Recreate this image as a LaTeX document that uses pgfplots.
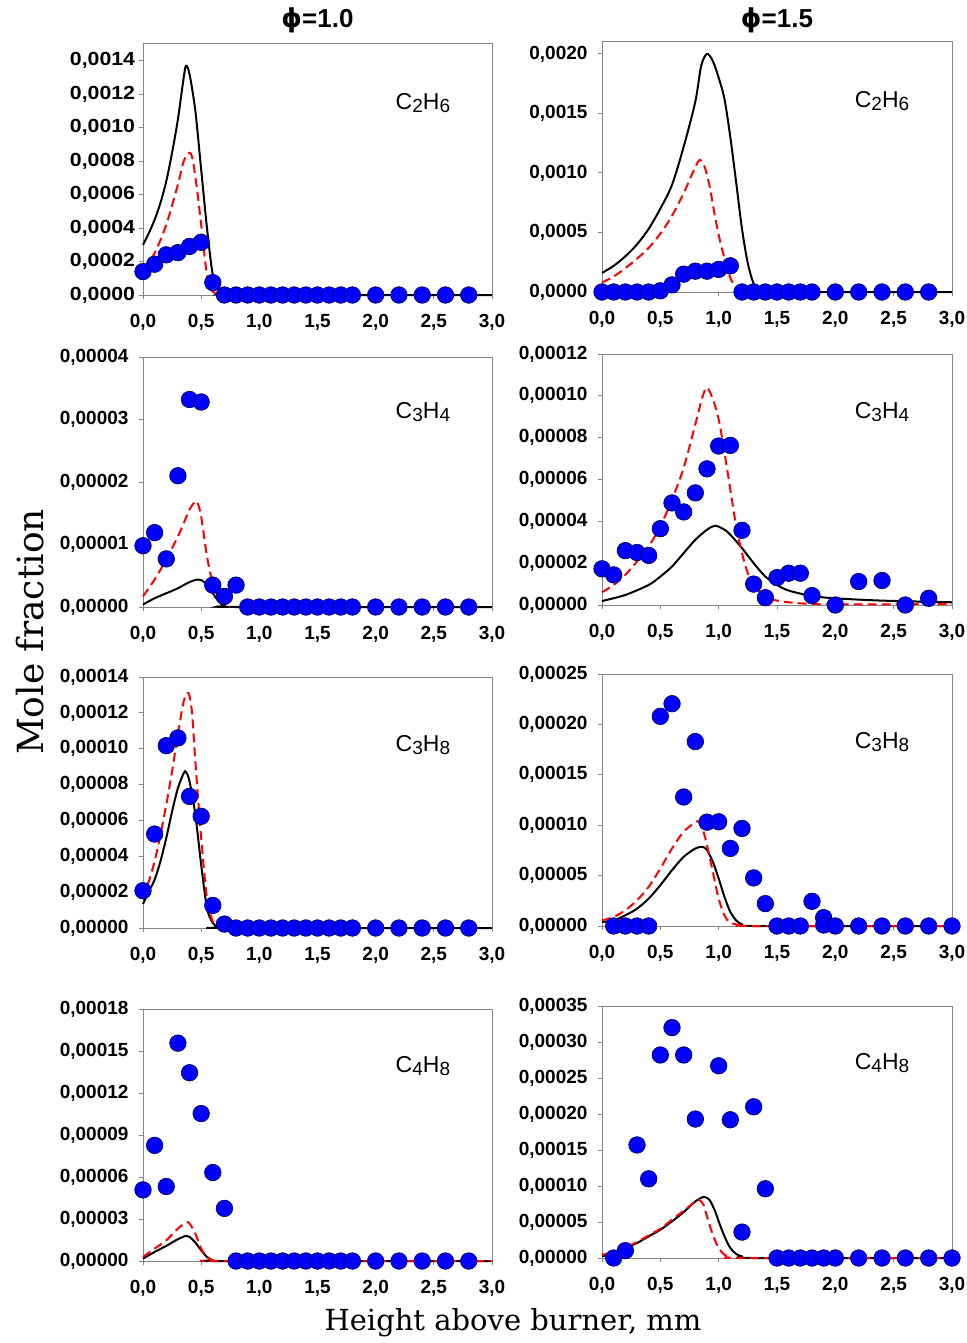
\documentclass[border=0pt]{standalone}
\usepackage{fontspec}
\setmainfont{Liberation Sans}
\newfontfamily\serifl{DejaVu Serif}
\newfontfamily\dvs{DejaVu Sans}
\usepackage{pgfplots}
\pgfplotsset{compat=1.18}
\definecolor{frame}{RGB}{134,134,134}
\definecolor{mk}{RGB}{0,0,255}
\pgfplotsset{
  panel/.style={width=349pt,height=251pt,scale only axis,anchor=south west,
    xmin=0,xmax=3,ymin=0,clip=false,
    xtick={0,0.5,1,1.5,2,2.5,3},
    axis line style={frame,line width=1pt},
    tick style={frame,line width=1pt},
    major tick length=4pt,
    tick align=outside, xtick pos=bottom, ytick pos=left,
    scaled y ticks=false,
    tick label style={font=\fontsize{19}{19}\selectfont\bfseries},
    xticklabel={\pgfmathprintnumber[fixed,fixed zerofill,precision=1,use comma,assume math mode=true]{\tick}},
    xticklabel style={yshift=-12pt},
  },
  p4/.style={yticklabel={\pgfmathprintnumber[fixed,fixed zerofill,precision=4,use comma,assume math mode=true]{\tick}}},
  p5/.style={yticklabel={\pgfmathprintnumber[fixed,fixed zerofill,precision=5,use comma,assume math mode=true]{\tick}},
    yticklabel style={xshift=-7pt}},
  blk/.style={black,line width=2pt,no marks,smooth},
  rdd/.style={red,line width=2pt,no marks,smooth,dash pattern=on 9pt off 5pt},
  mrk/.style={only marks,mark=*,mark size=8.3pt,mark options={fill=mk,draw=black!70!blue,line width=0.6pt}},
}
\newcommand{\spc}[4]{\fontsize{23}{23}\selectfont #1\raisebox{-3pt}{\fontsize{19}{19}\selectfont #2}#3\raisebox{-3pt}{\fontsize{19}{19}\selectfont #4}}
\begin{document}
\begin{tikzpicture}
\path[use as bounding box] (0pt,0pt) rectangle (966pt,-1343pt);
\node[font=\fontsize{26}{26}\selectfont\bfseries] at (317.5pt,-20pt) {{\dvs\bfseries ϕ}=1.0};
\node[font=\fontsize{26}{26}\selectfont\bfseries] at (777pt,-20pt) {{\dvs\bfseries ϕ}=1.5};
\node[font=\serifl\fontsize{36}{36}\selectfont,rotate=90] at (30pt,-632pt) {Mole fraction};
\node[font=\serifl\fontsize{29}{29}\selectfont] at (513pt,-1323pt) {Height above burner, mm};

% Row 1 left: C2H6 phi=1.0
\begin{axis}[panel,p4,at={(143pt,-295pt)},ymax=0.0015,
  ytick={0,0.0002,0.0004,0.0006,0.0008,0.0010,0.0012,0.0014},
  yticklabel style={xscale=1.12}]
\addplot[blk] coordinates {(0,0.0003)(0.05,0.00037)(0.1,0.00045)(0.15,0.00055)(0.2,0.00068)(0.25,0.00085)(0.3,0.00105)(0.35,0.0013)(0.37,0.00137)(0.4,0.00132)(0.45,0.0011)(0.5,0.00075)(0.55,0.0004)(0.6,0.00012)(0.65,0.00003)(0.7,0.00001)(0.8,0)(3.0,0)};
\addplot[rdd] coordinates {(0,0.00015)(0.1,0.00025)(0.2,0.00042)(0.3,0.00066)(0.35,0.0008)(0.4,0.00085)(0.43,0.0008)(0.47,0.0006)(0.5,0.00042)(0.55,0.00012)(0.6,0.00002)(0.7,0)};
\addplot[mrk] coordinates {(0,0.00014)(0.1,0.000184)(0.2,0.00024)(0.3,0.000253)(0.4,0.00029)(0.5,0.000315)(0.6,0.000074)(0.7,0)(0.8,0)(0.9,0)(1.0,0)(1.1,0)(1.2,0)(1.3,0)(1.4,0)(1.5,0)(1.6,0)(1.7,0)(1.8,0)(2.0,0)(2.2,0)(2.4,0)(2.6,0)(2.8,0)};
\node at (rel axis cs:0.802,0.765) {\spc{C}{2}{H}{6}};
\end{axis}

% Row 1 right: C2H6 phi=1.5
\begin{axis}[panel,p4,at={(602pt,-292pt)},width=350pt,height=250pt,ymax=0.0021,
  ytick={0,0.0005,0.0010,0.0015,0.0020},yticklabel style={xshift=-7pt}]
\addplot[blk] coordinates {(0,0.00016)(0.1,0.00022)(0.2,0.0003)(0.3,0.0004)(0.4,0.00053)(0.5,0.0007)(0.6,0.0009)(0.7,0.00122)(0.8,0.0016)(0.85,0.0019)(0.9,0.002)(0.95,0.00194)(1.0,0.0018)(1.05,0.00162)(1.1,0.0013)(1.15,0.00092)(1.2,0.00053)(1.25,0.00024)(1.3,0.00007)(1.35,0.00001)(1.4,0)(3.0,0)};
\addplot[rdd] coordinates {(0,0.00008)(0.1,0.00013)(0.2,0.0002)(0.3,0.00028)(0.4,0.00037)(0.5,0.00049)(0.6,0.00064)(0.7,0.00083)(0.8,0.00105)(0.84,0.00111)(0.88,0.00105)(0.92,0.0009)(0.96,0.00068)(1.0,0.00048)(1.05,0.00028)(1.1,0.00012)(1.15,0.00003)(1.2,0)};
\addplot[mrk] coordinates {(0,0)(0.1,0)(0.2,0)(0.3,0)(0.4,0)(0.5,0.00001)(0.6,0.00006)(0.7,0.00015)(0.8,0.000175)(0.9,0.000175)(1.0,0.00019)(1.1,0.00022)(1.2,0)(1.3,0)(1.4,0)(1.5,0)(1.6,0)(1.7,0)(1.8,0)(2.0,0)(2.2,0)(2.4,0)(2.6,0)(2.8,0)};
\node at (rel axis cs:0.80,0.765) {\spc{C}{2}{H}{6}};
\end{axis}

% Row 2 left: C3H4 phi=1.0
\begin{axis}[panel,p5,at={(143pt,-607pt)},height=250pt,ymax=0.00004,
  ytick={0,0.00001,0.00002,0.00003,0.00004}]
\addplot[blk] coordinates {(0,0.0000004)(0.1,0.0000014)(0.2,0.0000022)(0.3,0.000003)(0.4,0.000004)(0.47,0.0000044)(0.5,0.0000043)(0.55,0.0000036)(0.6,0.0000022)(0.65,0.0000009)(0.7,0.0000002)(0.8,0)(3.0,0)};
\addplot[rdd] coordinates {(0,0.0000017)(0.1,0.0000044)(0.2,0.0000076)(0.3,0.0000113)(0.35,0.0000134)(0.4,0.0000156)(0.45,0.0000169)(0.47,0.0000166)(0.5,0.0000145)(0.55,0.0000081)(0.6,0.0000038)(0.65,0.0000014)(0.7,0.0000004)(0.75,0)};
\addplot[mrk] coordinates {(0,0.0000098)(0.1,0.0000119)(0.2,0.0000077)(0.3,0.000021)(0.4,0.0000332)(0.5,0.0000328)(0.6,0.0000035)(0.7,0.0000017)(0.8,0.0000035)(0.9,0)(1.0,0)(1.1,0)(1.2,0)(1.3,0)(1.4,0)(1.5,0)(1.6,0)(1.7,0)(1.8,0)(2.0,0)(2.2,0)(2.4,0)(2.6,0)(2.8,0)};
\node at (rel axis cs:0.802,0.78) {\spc{C}{3}{H}{4}};
\end{axis}

% Row 2 right: C3H4 phi=1.5
\begin{axis}[panel,p5,at={(602pt,-605pt)},width=350pt,ymax=0.00012,
  ytick={0,0.00002,0.00004,0.00006,0.00008,0.00010,0.00012}]
\addplot[blk] coordinates {(0,0.0000019)(0.2,0.0000048)(0.4,0.0000096)(0.5,0.0000136)(0.6,0.0000184)(0.7,0.0000248)(0.8,0.0000312)(0.9,0.000036)(0.97,0.0000379)(1.05,0.000036)(1.1,0.0000336)(1.2,0.0000272)(1.3,0.00002)(1.4,0.0000136)(1.5,0.0000096)(1.6,0.0000069)(1.8,0.0000043)(2.0,0.0000032)(2.4,0.0000021)(3.0,0.0000013)};
\addplot[rdd] coordinates {(0,0.0000061)(0.1,0.0000096)(0.2,0.0000144)(0.3,0.0000208)(0.4,0.000028)(0.5,0.0000376)(0.6,0.0000504)(0.7,0.0000656)(0.8,0.0000864)(0.86,0.0000992)(0.9,0.000104)(0.95,0.0000984)(1.0,0.0000888)(1.05,0.0000728)(1.1,0.0000552)(1.15,0.0000376)(1.2,0.0000248)(1.25,0.0000152)(1.3,0.0000096)(1.4,0.0000043)(1.5,0.0000021)(1.7,0.0000008)(2.0,0.0000003)(3.0,0.0000005)};
\addplot[mrk] coordinates {(0,0.0000173)(0.1,0.0000144)(0.2,0.000026)(0.3,0.0000251)(0.4,0.0000237)(0.5,0.0000365)(0.6,0.0000488)(0.7,0.0000445)(0.8,0.0000536)(0.9,0.0000651)(1.0,0.000076)(1.1,0.0000763)(1.2,0.0000357)(1.3,0.00001)(1.4,0.0000035)(1.5,0.0000131)(1.6,0.0000152)(1.7,0.0000152)(1.8,0.0000045)(2.0,0)(2.2,0.0000112)(2.4,0.0000117)(2.6,0)(2.8,0.0000032)};
\node at (rel axis cs:0.80,0.77) {\spc{C}{3}{H}{4}};
\end{axis}

% Row 3 left: C3H8 phi=1.0
\begin{axis}[panel,p5,at={(143pt,-928pt)},ymax=0.00014,
  ytick={0,0.00002,0.00004,0.00006,0.00008,0.00010,0.00012,0.00014}]
\addplot[blk] coordinates {(0,0.0000134)(0.05,0.0000204)(0.1,0.000027)(0.15,0.0000372)(0.2,0.0000502)(0.25,0.000065)(0.3,0.000078)(0.35,0.0000864)(0.37,0.000087)(0.4,0.0000818)(0.45,0.0000632)(0.5,0.0000353)(0.55,0.0000112)(0.6,0.0000028)(0.65,0.0000004)(0.7,0)(3.0,0)};
\addplot[rdd] coordinates {(0,0.0000167)(0.05,0.000026)(0.1,0.0000372)(0.15,0.000052)(0.2,0.0000688)(0.25,0.0000874)(0.3,0.000108)(0.35,0.0001264)(0.39,0.000131)(0.42,0.000121)(0.45,0.000093)(0.5,0.0000502)(0.55,0.0000167)(0.6,0.0000037)(0.65,0.0000006)(0.7,0)};
\addplot[mrk] coordinates {(0,0.0000208)(0.1,0.0000524)(0.2,0.0001017)(0.3,0.000106)(0.4,0.0000734)(0.5,0.0000623)(0.6,0.0000126)(0.7,0.0000022)(0.8,0)(0.9,0)(1.0,0)(1.1,0)(1.2,0)(1.3,0)(1.4,0)(1.5,0)(1.6,0)(1.7,0)(1.8,0)(2.0,0)(2.2,0)(2.4,0)(2.6,0)(2.8,0)};
\node at (rel axis cs:0.802,0.73) {\spc{C}{3}{H}{8}};
\end{axis}

% Row 3 right: C3H8 phi=1.5
\begin{axis}[panel,p5,at={(602pt,-926pt)},width=350pt,height=252pt,ymax=0.00025,
  ytick={0,0.00005,0.00010,0.00015,0.00020,0.00025}]
\addplot[blk] coordinates {(0,0.000004)(0.1,0.0000056)(0.2,0.0000106)(0.3,0.0000172)(0.4,0.0000272)(0.5,0.0000405)(0.6,0.0000554)(0.7,0.0000686)(0.8,0.0000769)(0.86,0.0000786)(0.9,0.0000753)(0.95,0.0000637)(1.0,0.0000471)(1.05,0.0000288)(1.1,0.0000139)(1.15,0.0000056)(1.2,0.0000017)(1.3,0)(3.0,0)};
\addplot[rdd] coordinates {(0,0.0000056)(0.1,0.000009)(0.2,0.0000156)(0.3,0.0000255)(0.4,0.0000388)(0.5,0.000057)(0.6,0.0000769)(0.7,0.0000935)(0.8,0.0001028)(0.83,0.0001034)(0.87,0.0000935)(0.9,0.0000802)(0.95,0.0000537)(1.0,0.0000272)(1.05,0.0000106)(1.1,0.0000033)(1.2,0.0000007)(1.3,0)(3.0,0)};
\addplot[mrk] coordinates {(0.1,0)(0.2,0)(0.3,0)(0.4,0)(0.5,0.000208)(0.6,0.0002205)(0.7,0.000128)(0.8,0.000183)(0.9,0.000103)(1.0,0.0001034)(1.1,0.000077)(1.2,0.0000968)(1.3,0.0000477)(1.4,0.0000222)(1.5,0)(1.6,0)(1.7,0)(1.8,0.0000245)(1.9,0.0000083)(1.9,0.000001)(2.0,0)(2.2,0)(2.4,0)(2.6,0)(2.8,0)(3.0,0)};
\node at (rel axis cs:0.80,0.73) {\spc{C}{3}{H}{8}};
\end{axis}

% Row 4 left: C4H8 phi=1.0
\begin{axis}[panel,p5,at={(143pt,-1261pt)},height=252pt,ymax=0.00018,
  ytick={0,0.00003,0.00006,0.00009,0.00012,0.00015,0.00018}]
\addplot[blk] coordinates {(0,0.0000017)(0.1,0.0000065)(0.2,0.0000108)(0.3,0.0000156)(0.37,0.000018)(0.4,0.0000172)(0.45,0.0000132)(0.5,0.0000077)(0.55,0.0000029)(0.6,0.0000005)(0.65,0)(3.0,0)};
\addplot[rdd] coordinates {(0,0.0000029)(0.1,0.0000089)(0.2,0.0000148)(0.3,0.0000232)(0.37,0.0000275)(0.4,0.0000268)(0.45,0.0000196)(0.5,0.0000089)(0.55,0.0000029)(0.6,0.0000005)(0.65,0)(3.0,0)};
\addplot[mrk] coordinates {(0,0.0000508)(0.1,0.0000826)(0.2,0.0000532)(0.3,0.0001556)(0.4,0.0001345)(0.5,0.0001053)(0.6,0.0000632)(0.7,0.0000376)(0.8,0)(0.9,0)(1.0,0)(1.1,0)(1.2,0)(1.3,0)(1.4,0)(1.5,0)(1.6,0)(1.7,0)(1.8,0)(2.0,0)(2.2,0)(2.4,0)(2.6,0)(2.8,0)};
\node at (rel axis cs:0.802,0.775) {\spc{C}{4}{H}{8}};
\end{axis}

% Row 4 right: C4H8 phi=1.5
\begin{axis}[panel,p5,at={(602pt,-1258pt)},width=350pt,height=252pt,ymax=0.00035,
  ytick={0,0.00005,0.00010,0.00015,0.00020,0.00025,0.00030,0.00035}]
\addplot[blk] coordinates {(0,0.0000023)(0.1,0.0000069)(0.2,0.0000139)(0.3,0.0000208)(0.4,0.00003)(0.5,0.0000393)(0.6,0.0000509)(0.7,0.0000638)(0.8,0.0000786)(0.87,0.0000847)(0.92,0.000081)(0.97,0.0000648)(1.0,0.0000509)(1.05,0.00003)(1.1,0.0000139)(1.15,0.0000056)(1.2,0.0000023)(1.3,0)(3.0,0)};
\addplot[rdd] coordinates {(0,0.0000046)(0.1,0.0000079)(0.2,0.0000148)(0.3,0.0000222)(0.4,0.0000315)(0.5,0.0000407)(0.6,0.0000532)(0.7,0.0000657)(0.8,0.0000786)(0.83,0.000081)(0.87,0.000074)(0.9,0.0000578)(0.95,0.0000324)(1.0,0.0000139)(1.05,0.0000046)(1.1,0.0000014)(1.2,0)(3.0,0)};
\addplot[mrk] coordinates {(0.1,0)(0.2,0.0000102)(0.3,0.000157)(0.4,0.00011)(0.5,0.000282)(0.6,0.00032)(0.7,0.000282)(0.8,0.000193)(1.0,0.000267)(1.1,0.000192)(1.2,0.000036)(1.3,0.00021)(1.4,0.0000962)(1.5,0)(1.6,0)(1.7,0)(1.8,0)(1.9,0)(2.0,0)(2.2,0)(2.4,0)(2.6,0)(2.8,0)(3.0,0)};
\node at (rel axis cs:0.80,0.775) {\spc{C}{4}{H}{8}};
\end{axis}
\end{tikzpicture}
\end{document}
